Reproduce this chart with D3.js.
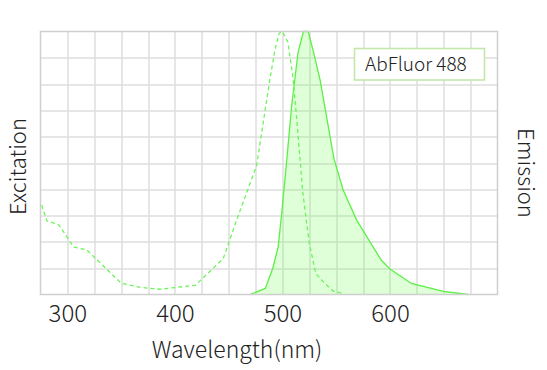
<!DOCTYPE html>
<meta charset="utf-8">
<script src="https://d3js.org/d3.v7.min.js"></script>
<style>
  body { margin: 0; background: #fff; }
  text { font-family: "Noto Sans CJK SC", "Noto Sans", sans-serif; font-weight: 300; fill: #222; }
</style>
<div id="spectra"></div>
<script>
// excitation spectrum (dashed), wavelength in nm and relative intensity in %
var exWave  = [276, 281, 292, 306, 318, 350, 368, 386, 419, 445, 458, 476, 488, 493, 497, 500, 505, 509.5, 513, 519, 525, 531, 538, 547, 556];
var exValue = [34, 28, 26.5, 18, 17, 4.3, 2.7, 2, 3.5, 13.7, 29, 49, 81, 93, 99.4, 100, 96, 83.5, 68, 38.5, 19.4, 8, 4.8, 1.4, 0.4];

// emission spectrum (solid + filled)
var emWave  = [470, 484, 491, 496, 499, 504, 508.5, 514.5, 519.5, 524, 529, 535, 548, 556.5, 569, 592, 600, 620, 649.5, 673];
var emValue = [0, 2.3, 10, 18, 29.6, 51, 71.5, 92, 100, 100, 92, 81.6, 51.5, 39.7, 28.3, 13, 9.7, 4.2, 1.2, 0];

var xTicks = [300, 400, 500, 600];
var dyeName = "AbFluor 488";

var margin = {top: 31.5, right: 49.5, bottom: 75.5, left: 40.5},
    width = 547 - margin.left - margin.right,
    height = 370 - margin.top - margin.bottom;

var svg = d3.select("#spectra")
  .append("svg")
    .attr("width", 547)
    .attr("height", 370)
  .append("g")
    .attr("transform", "translate(" + margin.left + "," + margin.top + ")");

var x = d3.scaleLinear().domain([275, 700]).range([0, width]);
var y = d3.scaleLinear().domain([0, 100]).range([height, 0]);

// grid every 25 nm and every 10 %
svg.append("g")
  .selectAll("line.v")
  .data(d3.range(300, 700, 25))
  .enter()
  .append("line")
    .attr("x1", function(d){ return Math.round(x(d)) + 0.5 })
    .attr("x2", function(d){ return Math.round(x(d)) + 0.5 })
    .attr("y1", 0)
    .attr("y2", height)
    .style("stroke", "#dedede")
    .style("stroke-width", 1.5)

svg.append("g")
  .selectAll("line.h")
  .data(d3.range(10, 100, 10))
  .enter()
  .append("line")
    .attr("x1", 0)
    .attr("x2", width)
    .attr("y1", function(d){ return Math.round(y(d)) + 0.5 })
    .attr("y2", function(d){ return Math.round(y(d)) + 0.5 })
    .style("stroke", "#dedede")
    .style("stroke-width", 1.5)

var ex = exWave.map(function(w, i){ return [w, exValue[i]] });
var em = emWave.map(function(w, i){ return [w, emValue[i]] });

var line = d3.line()
  .x(function(d){ return x(d[0]) })
  .y(function(d){ return y(d[1]) });

var area = d3.area()
  .x(function(d){ return x(d[0]) })
  .y0(y(0))
  .y1(function(d){ return y(d[1]) });

svg.append("path")
  .datum(em)
  .attr("d", area)
  .style("fill", "#5cff3c")
  .style("fill-opacity", 0.2)

svg.append("path")
  .datum(em)
  .attr("d", line)
  .style("fill", "none")
  .style("stroke", "#5cf046")
  .style("stroke-width", 1.3)

svg.append("path")
  .datum(ex)
  .attr("d", line)
  .style("fill", "none")
  .style("stroke", "#6af558")
  .style("stroke-width", 1.3)
  .style("stroke-dasharray", "4,3")

// plot frame
svg.append("rect")
  .attr("x", 0)
  .attr("y", 0)
  .attr("width", width)
  .attr("height", height)
  .style("fill", "none")
  .style("stroke", "#cfcfcf")
  .style("stroke-width", 1.5)

// x axis labels only
var xAxis = svg.append("g")
  .attr("transform", "translate(0," + height + ")")
  .call(d3.axisBottom(x).tickValues(xTicks).tickSize(0).tickPadding(10));
xAxis.select(".domain").remove();
xAxis.selectAll("text")
  .style("font-family", "\"Noto Sans CJK SC\", \"Noto Sans\", sans-serif")
  .style("font-weight", 300)
  .style("font-size", "24px")
  .style("fill", "#222");

// axis titles
svg.append("text")
  .attr("x", 237 - margin.left)
  .attr("y", 358 - margin.top)
  .attr("text-anchor", "middle")
  .style("font-size", "23px")
  .text("Wavelength(nm)");

svg.append("text")
  .attr("transform", "translate(" + (26 - margin.left) + "," + (166.5 - margin.top) + ") rotate(-90)")
  .attr("text-anchor", "middle")
  .style("font-size", "22px")
  .text("Excitation");

svg.append("text")
  .attr("transform", "translate(" + (518 - margin.left) + "," + (173 - margin.top) + ") rotate(90)")
  .attr("text-anchor", "middle")
  .style("font-size", "22px")
  .text("Emission");

// legend box
var legend = svg.append("g")
  .attr("transform", "translate(" + (354.5 - margin.left) + "," + (48.5 - margin.top) + ")");
legend.append("rect")
  .attr("width", 130)
  .attr("height", 31.5)
  .style("fill", "#fff")
  .style("stroke", "#c4e6a8")
  .style("stroke-width", 1.6)
legend.append("text")
  .attr("x", 10.5)
  .attr("y", 22.5)
  .style("font-size", "19px")
  .text(dyeName);
</script>
